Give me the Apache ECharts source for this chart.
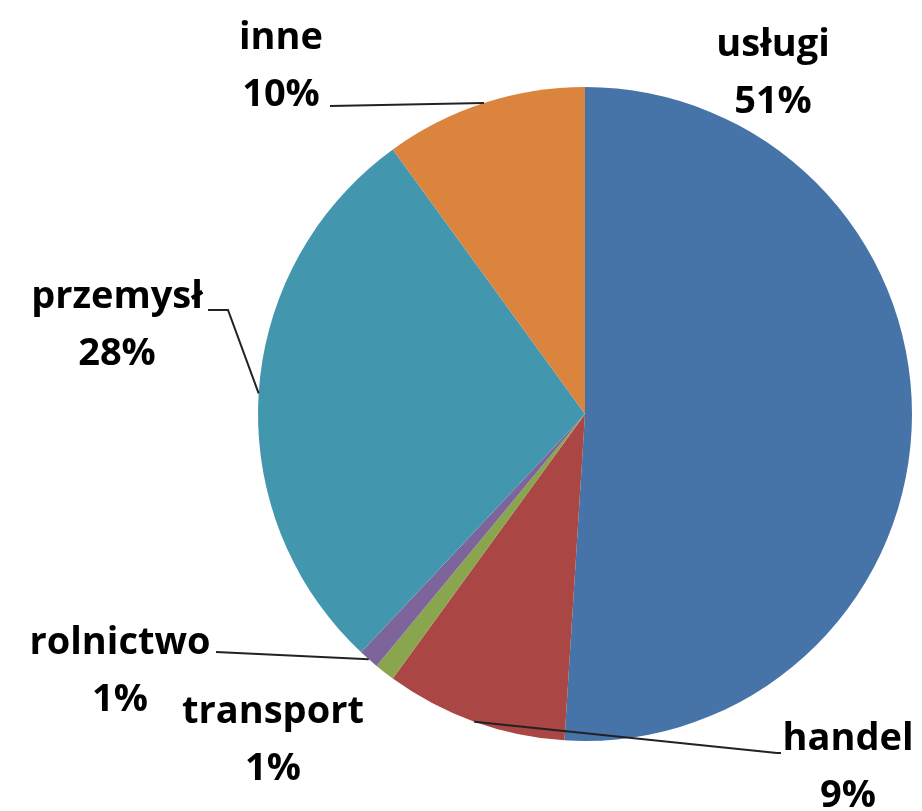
<!DOCTYPE html>
<html>
<head>
<meta charset="utf-8">
<script src="https://cdn.jsdelivr.net/npm/echarts@6/dist/echarts.min.js"></script>
<style>
    html, body { margin: 0; padding: 0; background: #fff; }
    #chart { width: 922px; height: 811px; }
</style>
</head>
<body>
<div id="chart"></div>
<script>
const categories = ['usługi', 'handel', 'transport', 'rolnictwo', 'przemysł', 'inne']
const shares = [51, 9, 1, 1, 28, 10]
const colors = ['#4674A8', '#AA4643', '#89A54E', '#7D649B', '#4297AF', '#DB843D']

// where each label block sits (center) and how its leader line bends
const labelSpots = [
    [773, 74], [848, 768], [273, 741], [120, 672], [117, 326], [281, 67]
]
const linePaths = [
    null,
    [[777, 753], [781, 753]],
    null,
    [[216, 652], [216, 652]],
    [[228, 310], [208, 310]],
    [[330, 106], [330, 106]]
]

;(function (){
    const myChart = echarts.init(document.getElementById('chart'))

    const sliceData = categories.map(function (name, i) {
        return { name: name, value: shares[i], itemStyle: { color: colors[i] } }
    })

    // transparent copy on top, only to carry labels and leader lines above the slices
    const labelData = categories.map(function (name, i) {
        const item = { name: name, value: shares[i] }
        if (!linePaths[i]) item.labelLine = { show: false }
        return item
    })

    const pieBase = {
        type: 'pie',
        center: [585, 414],
        radius: 327,
        startAngle: 90,
        clockwise: true,
        avoidLabelOverlap: false
    }

    const option = {
        animation: false,
        series: [
            Object.assign({}, pieBase, {
                z: 2,
                itemStyle: { borderWidth: 0 },
                label: { show: false },
                labelLine: { show: false },
                data: sliceData
            }),
            Object.assign({}, pieBase, {
                z: 5,
                silent: true,
                itemStyle: { color: 'rgba(0,0,0,0)', borderWidth: 0 },
                label: {
                    show: true,
                    position: 'outside',
                    formatter: '{b}\n{d}%',
                    fontFamily: 'Open Sans',
                    fontWeight: 'bold',
                    fontSize: 38,
                    lineHeight: 57,
                    color: '#000'
                },
                labelLine: {
                    show: true,
                    showAbove: true,
                    lineStyle: { color: '#222', width: 2 }
                },
                labelLayout: function (params) {
                    const i = params.dataIndex
                    const spot = labelSpots[i]
                    const out = { x: spot[0], y: spot[1], align: 'center', verticalAlign: 'middle' }
                    if (linePaths[i] && params.labelLinePoints) {
                        out.labelLinePoints = [params.labelLinePoints[0]].concat(linePaths[i])
                    }
                    return out
                },
                data: labelData
            })
        ]
    }

    myChart.setOption(option)

    window.addEventListener('resize', function () {
        myChart.resize()
    })
})();
</script>
</body>
</html>
